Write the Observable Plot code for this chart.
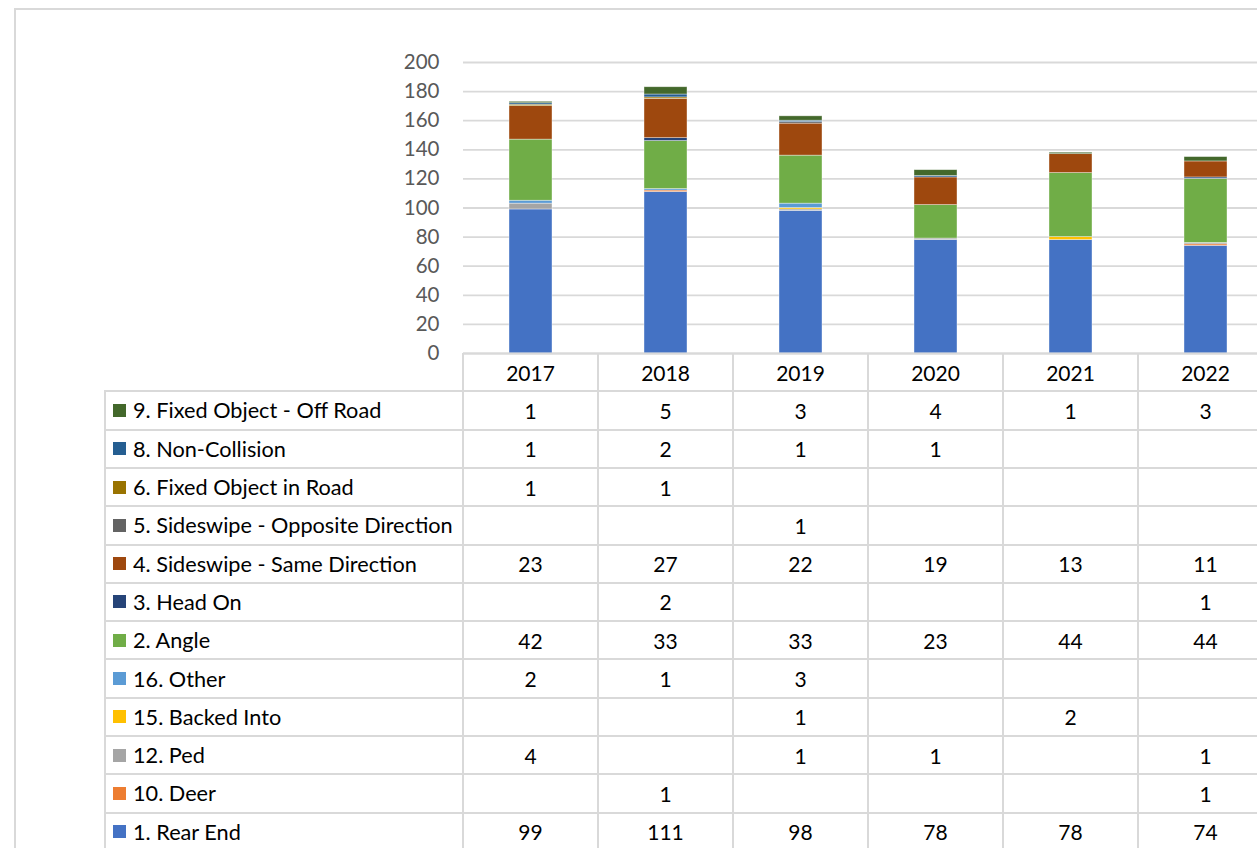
<!DOCTYPE html>
<html>
<head>
<meta charset="utf-8">
<script src="https://cdn.jsdelivr.net/npm/d3@7"></script>
<script src="https://cdn.jsdelivr.net/npm/@observablehq/plot@0.6"></script>
<style>
  html, body { margin:0; padding:0; background:#fff; overflow:hidden; width:1257px; height:848px; }
  body { font-family: Lato, "Noto Sans", sans-serif; position:relative; }
  #frame { position:absolute; left:14px; top:8px; width:3000px; height:3000px; border-left:2px solid #d9d9d9; border-top:2px solid #d9d9d9; }
  #chart { position:absolute; left:0; top:0; width:1290px; }
  #chart svg { max-width:none !important; }
  .hl { position:absolute; height:2px; background:#d9d9d9; }
  .vl { position:absolute; width:2px; background:#d9d9d9; }
  .cell { position:absolute; font-size:21px; color:#000; display:flex; align-items:center; white-space:nowrap; }
  .lab { font-size:21.7px; }
  .num { justify-content:center; }
  .sw { display:inline-block; width:13px; height:13px; margin-right:7px; flex:none; }
</style>
</head>
<body>
<div id="frame"></div>
<div id="chart"></div>
<div id="table"></div>
<script>
const years = ["2017", "2018", "2019", "2020", "2021", "2022"];
const series = [
  "1. Rear End", "10. Deer", "12. Ped", "15. Backed Into", "16. Other", "2. Angle",
  "3. Head On", "4. Sideswipe - Same Direction", "5. Sideswipe - Opposite Direction",
  "6. Fixed Object in Road", "8. Non-Collision", "9. Fixed Object - Off Road"
];
const colors = [
  "#4472C4", "#ED7D31", "#A5A5A5", "#FFC000", "#5B9BD5", "#70AD47",
  "#264478", "#9E480E", "#636363", "#997300", "#255E91", "#43682B"
];
const rearEnd        = [99, 111, 98, 78, 78, 74];
const deer           = [null, 1, null, null, null, 1];
const ped            = [4, null, 1, 1, null, 1];
const backedInto     = [null, null, 1, null, 2, null];
const other          = [2, 1, 3, null, null, null];
const angle          = [42, 33, 33, 23, 44, 44];
const headOn         = [null, 2, null, null, null, 1];
const sideswipeSame  = [23, 27, 22, 19, 13, 11];
const sideswipeOpp   = [null, null, 1, null, null, null];
const fixedInRoad    = [1, 1, null, null, null, null];
const nonCollision   = [1, 2, 1, 1, null, null];
const fixedOffRoad   = [1, 5, 3, 4, 1, 3];
const yTicks = [0, 20, 40, 60, 80, 100, 120, 140, 160, 180, 200];

const valuesBySeries = [rearEnd, deer, ped, backedInto, other, angle, headOn,
  sideswipeSame, sideswipeOpp, fixedInRoad, nonCollision, fixedOffRoad];

const data = [];
series.forEach((s, i) => {
  valuesBySeries[i].forEach((v, j) => {
    if (v != null) data.push({series: s, year: years[j], value: v});
  });
});

const chart = Plot.plot({
  width: 1290,
  height: 356,
  marginLeft: 463,
  marginRight: 17,
  marginTop: 62,
  marginBottom: 3,
  style: {fontFamily: "Lato, 'Noto Sans', sans-serif", color: "#595959", background: "transparent", overflow: "visible", maxWidth: "none"},
  x: {domain: years, paddingInner: 0.68, paddingOuter: 0.34, axis: null},
  y: {domain: [0, 200], axis: null},
  color: {domain: series, range: colors},
  marks: [
    Plot.gridY(yTicks, {stroke: "#d9d9d9", strokeOpacity: 1, strokeWidth: 1.8}),
    Plot.axisY(yTicks, {tickSize: 0, tickPadding: 24, fontSize: 20.5, fill: "#595959", label: null}),
    Plot.barY(data, {x: "year", y: "value", fill: "series", order: series,
      stroke: "#ffffff", strokeWidth: 0.7, strokeOpacity: 0.55}),
    Plot.ruleY([0], {stroke: "#d9d9d9", strokeWidth: 2})
  ]
});
document.getElementById("chart").appendChild(chart);

// Data table (legend + values), laid out beneath the plot on the same columns
const tbl = document.getElementById("table");
const tLeft = 105, labelRight = 463, colW = 135, tTop = 353, rowH = 38.3;
const colX = years.map((_, i) => labelRight + i * colW);
function add(cls, style, html) {
  const d = document.createElement("div");
  d.className = cls;
  Object.assign(d.style, style);
  if (html != null) d.innerHTML = html;
  tbl.appendChild(d);
  return d;
}
years.forEach((y, i) => {
  add("cell num", {left: colX[i] + "px", top: tTop + "px", width: colW + "px", height: rowH + "px"}, y);
});
const rowsOrder = series.map((s, i) => i).reverse();
rowsOrder.forEach((si, r) => {
  const ry = tTop + rowH * (r + 1);
  add("cell lab", {left: (tLeft + 8) + "px", top: ry + "px", width: (labelRight - tLeft - 8) + "px", height: rowH + "px"},
    `<span class="sw" style="background:${colors[si]}"></span>${series[si]}`);
  valuesBySeries[si].forEach((v, j) => {
    if (v != null) add("cell num", {left: colX[j] + "px", top: ry + "px", width: colW + "px", height: rowH + "px"}, String(v));
  });
});
for (let r = 1; r <= 13; r++) {
  const ry = tTop + rowH * r - 1;
  add("hl", {left: tLeft + "px", top: ry + "px", width: "2000px"});
}
add("vl", {left: (tLeft - 1) + "px", top: (tTop + rowH - 1) + "px", height: "1000px"});
for (let i = 0; i <= years.length; i++) {
  add("vl", {left: (labelRight + i * colW - 1) + "px", top: tTop + "px", height: "1000px"});
}
</script>
</body>
</html>
